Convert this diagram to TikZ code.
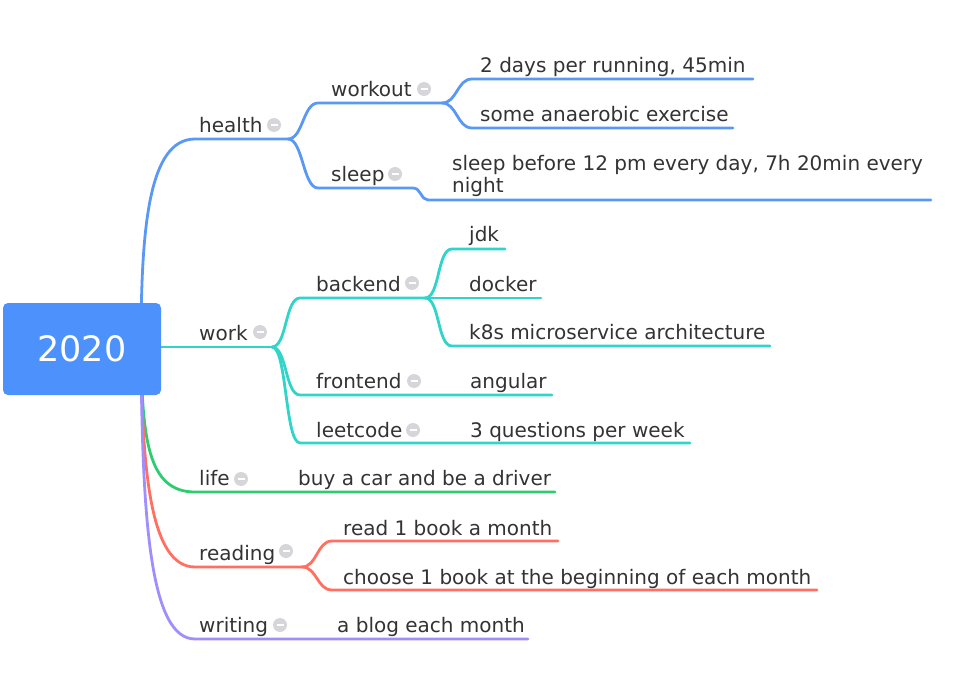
\documentclass[tikz,border=0pt]{standalone}
\usepackage{fontspec}
\setmainfont{DejaVu Sans}
\definecolor{rootc}{RGB}{77,145,252}
\definecolor{cblue}{RGB}{90,152,246}
\definecolor{cteal}{RGB}{48,212,200}
\definecolor{cgreen}{RGB}{46,204,113}
\definecolor{cred}{RGB}{255,112,98}
\definecolor{cpurple}{RGB}{160,142,252}
\definecolor{tc}{RGB}{51,51,51}
\definecolor{tg}{RGB}{214,214,218}
\begin{document}
\begin{tikzpicture}[x=1pt,y=-1pt,
  txt/.style={anchor=base west, inner sep=0pt, text=tc, font=\fontsize{20}{22.7}\selectfont},
  br/.style={line width=2.8pt, line cap=round, line join=round},
  tog/.style={circle, fill=tg, minimum size=14pt, inner sep=0pt},
  rootbox/.style={rectangle, rounded corners=5pt, fill=rootc, minimum width=158pt, minimum height=92pt, inner sep=0pt, text=white, font=\fontsize{35}{40}\selectfont}]
\useasboundingbox (0,0) rectangle (972,695);

% hidden origin of branches (behind root)
\coordinate (o) at (141,347);

% ---------- health ----------
\coordinate (hs) at (195,139); \coordinate (hj) at (288,139);
\coordinate (wos) at (318,103); \coordinate (woj) at (442,103);
\coordinate (w1s) at (472,79); \coordinate (w1e) at (753,79);
\coordinate (w2s) at (472,128); \coordinate (w2e) at (733,128);
\coordinate (sls) at (318,188); \coordinate (slb) at (413,188);
\coordinate (slc) at (428,200); \coordinate (sle) at (931,200);
\draw[br,cblue] (o) .. controls (141,230) and (148,139) .. (hs) -- (hj);
\draw[br,cblue] (hj) .. controls +(15,0) and +(-15,0) .. (wos) -- (woj);
\draw[br,cblue] (hj) .. controls +(15,0) and +(-15,0) .. (sls) -- (slb)
   .. controls +(8,0) and +(-7,0) .. (slc) -- (sle);
\draw[br,cblue] (woj) .. controls +(15,0) and +(-15,0) .. (w1s) -- (w1e);
\draw[br,cblue] (woj) .. controls +(15,0) and +(-15,0) .. (w2s) -- (w2e);

% ---------- work ----------
\coordinate (ws) at (150,347); \coordinate (wj) at (272,347);
\coordinate (bs) at (300,298); \coordinate (bj) at (425,298);
\coordinate (j1s) at (452,249); \coordinate (j1e) at (505,249);
\coordinate (d1e) at (541,298);
\coordinate (k1s) at (452,346); \coordinate (k1e) at (770,346);
\coordinate (fs) at (300,395); \coordinate (fe) at (552,395);
\coordinate (ls) at (300,443); \coordinate (le) at (690,443);
\draw[br,cteal] (ws) -- (wj);
\draw[br,cteal] (wj) .. controls +(15,0) and +(-15,0) .. (bs) -- (bj);
\draw[br,cteal] (wj) .. controls +(15,0) and +(-15,0) .. (fs) -- (fe);
\draw[br,cteal] (wj) .. controls +(15,0) and +(-15,0) .. (ls) -- (le);
\draw[br,cteal] (bj) .. controls +(15,0) and +(-15,0) .. (j1s) -- (j1e);
\draw[br,cteal] (bj) -- (d1e);
\draw[br,cteal] (bj) .. controls +(15,0) and +(-15,0) .. (k1s) -- (k1e);

% ---------- life ----------
\coordinate (lfs) at (195,492); \coordinate (lfe) at (555,492);
\draw[br,cgreen] (o) .. controls (142,440) and (148,492) .. (lfs) -- (lfe);

% ---------- reading ----------
\coordinate (rs) at (195,567); \coordinate (rj) at (302,567);
\coordinate (r1s) at (332,541); \coordinate (r1e) at (558,541);
\coordinate (r2s) at (332,590); \coordinate (r2e) at (817,590);
\draw[br,cred] (o) .. controls (142,470) and (150,567) .. (rs) -- (rj);
\draw[br,cred] (rj) .. controls +(15,0) and +(-15,0) .. (r1s) -- (r1e);
\draw[br,cred] (rj) .. controls +(15,0) and +(-15,0) .. (r2s) -- (r2e);

% ---------- writing ----------
\coordinate (wrs) at (195,639); \coordinate (wre) at (528,639);
\draw[br,cpurple] (o) .. controls (142,520) and (150,639) .. (wrs) -- (wre);

% ---------- root ----------
\node[rootbox] (root) at (82,349) {2020};

% ---------- texts ----------
\node[txt] (health) at (199,133) {health};
\node[txt] (workout) at (331,97) {workout};
\node[txt] (sleep) at (331,182) {sleep};
\node[txt] (run) at (480,73) {2 days per running, 45min};
\node[txt] (anae) at (480,122) {some anaerobic exercise};
\node[txt,align=left] (sleept) at (452,193) {sleep before 12 pm every day, 7h 20min every\\night};

\node[txt] (work) at (199,340) {work};
\node[txt] (backend) at (316,291) {backend};
\node[txt] (jdk) at (469,242) {jdk};
\node[txt] (docker) at (469,291) {docker};
\node[txt] (k8s) at (469,339) {k8s microservice architecture};
\node[txt] (frontend) at (316,388) {frontend};
\node[txt] (angular) at (470,388) {angular};
\node[txt] (leetcode) at (316,437) {leetcode};
\node[txt] (lq) at (470,437) {3 questions per week};

\node[txt] (life) at (199,485) {life};
\node[txt] (car) at (298,485) {buy a car and be a driver};

\node[txt] (reading) at (199,560) {reading};
\node[txt] (book1) at (343,535) {read 1 book a month};
\node[txt] (book2) at (343,584) {choose 1 book at the beginning of each month};

\node[txt] (writing) at (199,632) {writing};
\node[txt] (blog) at (337,632) {a blog each month};

% ---------- collapse toggles ----------
\foreach \n/\x/\y in {th/274/125, two/424/89, tsl/395/174, twk/260/332,
    tbe/412/283, tfr/414/381, tle/413/430, tli/241/479, tre/286/551, twr/280/625}
  \node[tog] (\n) at (\x,\y) {\textcolor{white}{\rule{7pt}{2.4pt}}};
\end{tikzpicture}
\end{document}
